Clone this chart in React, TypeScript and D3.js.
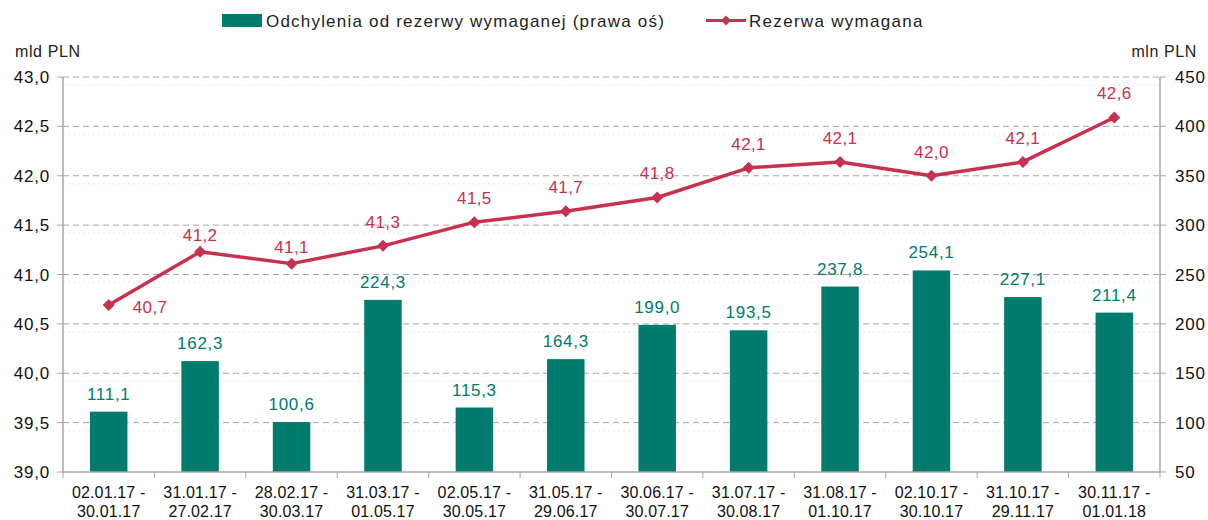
import React from "react";
import * as d3 from "d3";

const categories = [
  ["02.01.17 -", "30.01.17"],
  ["31.01.17 -", "27.02.17"],
  ["28.02.17 -", "30.03.17"],
  ["31.03.17 -", "01.05.17"],
  ["02.05.17 -", "30.05.17"],
  ["31.05.17 -", "29.06.17"],
  ["30.06.17 -", "30.07.17"],
  ["31.07.17 -", "30.08.17"],
  ["31.08.17 -", "01.10.17"],
  ["02.10.17 -", "30.10.17"],
  ["31.10.17 -", "29.11.17"],
  ["30.11.17 -", "01.01.18"],
];
const deviations = [111.1, 162.3, 100.6, 224.3, 115.3, 164.3, 199.0, 193.5, 237.8, 254.1, 227.1, 211.4];
const reserve = [40.69, 41.23, 41.11, 41.29, 41.53, 41.64, 41.78, 42.08, 42.14, 42.0, 42.14, 42.59];
const reserveLabels = ["40,7", "41,2", "41,1", "41,3", "41,5", "41,7", "41,8", "42,1", "42,1", "42,0", "42,1", "42,6"];
const leftTicks = [39.0, 39.5, 40.0, 40.5, 41.0, 41.5, 42.0, 42.5, 43.0];
const rightTicks = [50, 100, 150, 200, 250, 300, 350, 400, 450];

const TEAL = "#007B6E";
const RED = "#C8304F";
const GRID = "#A6A6A6";
const FONT = "Liberation Sans, Arial, sans-serif";

const fmt = (v: number, d: number) => v.toFixed(d).replace(".", ",");

export default function App() {
  const W = 1208, H = 520;
  const left = 63, right = 1160, top = 77, bottom = 472;
  const x = d3.scaleBand<number>().domain(d3.range(categories.length)).range([left, right]).paddingInner(0.59).paddingOuter(0.295);
  const step = (right - left) / categories.length;
  const yL = d3.scaleLinear().domain([39, 43]).range([bottom, top]);
  const yR = d3.scaleLinear().domain([50, 450]).range([bottom, top]);
  const cx = (i: number) => left + step * (i + 0.5);
  const line = d3.line<number>().x((_, i) => cx(i)).y((d) => yL(d));
  const diamond = (px: number, py: number, r: number) => `M${px},${py - r}L${px + r},${py}L${px},${py + r}L${px - r},${py}Z`;
  const labelOffset = (i: number) => (i === 1 || i === 2 ? -11 : -18);

  return (
    <svg width={W} height={H} style={{ position: "absolute", left: 0, top: 0, fontFamily: FONT }}>
      <rect width={W} height={H} fill="#fff" />
      {/* legend */}
      <rect x={222} y={14} width={40} height={13} fill={TEAL} />
      <text x={266} y={27} fontSize={17} fill="#222" letterSpacing={1.2}>Odchylenia od rezerwy wymaganej (prawa oś)</text>
      <line x1={706} x2={746} y1={20.5} y2={20.5} stroke={RED} strokeWidth={3} />
      <path d={diamond(726, 20.5, 5)} fill={RED} />
      <text x={749} y={27} fontSize={17} fill="#222" letterSpacing={1.3}>Rezerwa wymagana</text>
      {/* units */}
      <text x={15} y={57} fontSize={16} fill="#222" letterSpacing={0.6}>mld PLN</text>
      <text x={1197} y={57} fontSize={16} fill="#222" textAnchor="end" letterSpacing={0.6}>mln PLN</text>
      {/* grid */}
      {leftTicks.map((t) => (
        <g key={t}>
          {t > 39 && (
            <>
              <line x1={left} x2={right} y1={yL(t) + 8} y2={yL(t) + 8} stroke="#F2F2F2" strokeWidth={2} strokeDasharray="2,3" />
              <line x1={left} x2={right} y1={yL(t)} y2={yL(t)} stroke={GRID} strokeWidth={1} strokeDasharray="6,4" />
            </>
          )}
          <line x1={left - 6} x2={left} y1={yL(t)} y2={yL(t)} stroke={GRID} />
          <text x={50} y={yL(t) + 6} fontSize={17} textAnchor="end" fill="#111" letterSpacing={0.8}>{fmt(t, 1)}</text>
        </g>
      ))}
      {rightTicks.map((t) => (
        <g key={t}>
          <line x1={right} x2={right + 6} y1={yR(t)} y2={yR(t)} stroke={GRID} />
          <text x={1175} y={yR(t) + 6} fontSize={17} fill="#111" letterSpacing={0.8}>{t}</text>
        </g>
      ))}
      {/* bars */}
      {deviations.map((v, i) => (
        <g key={i}>
          <rect x={x(i)} y={yR(v)} width={x.bandwidth()} height={bottom - yR(v)} fill={TEAL} />
          <text x={cx(i)} y={yR(v) - 12} fontSize={17} textAnchor="middle" fill={TEAL} letterSpacing={0.7}>{fmt(v, 1)}</text>
        </g>
      ))}
      {/* axes */}
      <line x1={left} x2={left} y1={top} y2={bottom} stroke={GRID} strokeWidth={1.5} />
      <line x1={right} x2={right} y1={top} y2={bottom} stroke={GRID} strokeWidth={1.5} />
      <line x1={left} x2={right} y1={bottom} y2={bottom} stroke={GRID} strokeWidth={1.5} />
      {d3.range(categories.length + 1).map((i) => (
        <line key={i} x1={left + step * i} x2={left + step * i} y1={bottom} y2={bottom + 6} stroke={GRID} />
      ))}
      {categories.map((c, i) => (
        <text key={i} x={cx(i)} fontSize={16} textAnchor="middle" fill="#111" letterSpacing={0.15}>
          <tspan x={cx(i)} y={498}>{c[0]}</tspan>
          <tspan x={cx(i)} y={517}>{c[1]}</tspan>
        </text>
      ))}
      {/* line */}
      <path d={line(reserve) || ""} fill="none" stroke={RED} strokeWidth={3.5} strokeLinejoin="round" />
      {reserve.map((v, i) => (
        <g key={i}>
          <path d={diamond(cx(i), yL(v), 6)} fill={RED} />
          {i === 0 ? (
            <text x={cx(i) + 24} y={yL(v) + 8} fontSize={17} fill={RED} letterSpacing={0.4}>{reserveLabels[i]}</text>
          ) : (
            <text x={cx(i)} y={yL(v) + labelOffset(i)} fontSize={17} textAnchor="middle" fill={RED} letterSpacing={0.4}>{reserveLabels[i]}</text>
          )}
        </g>
      ))}
    </svg>
  );
}
